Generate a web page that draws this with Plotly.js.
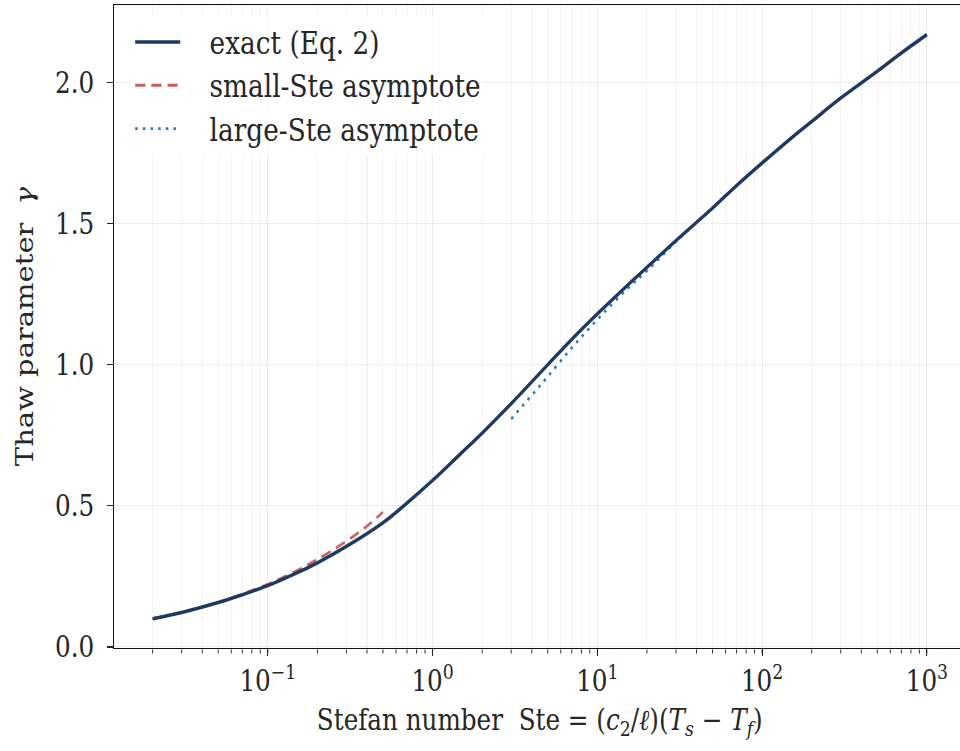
<!DOCTYPE html>
<html>
<head>
<meta charset="utf-8">
<script src="https://cdn.plot.ly/plotly-3.0.1.min.js"></script>
<style>
html,body{margin:0;padding:0;overflow:hidden;background:#fff;width:960px;height:751px;}
#chart{width:1144px;height:751px;transform:scaleX(0.85);transform-origin:0 0;}
</style>
</head>
<body>
<div id="chart"></div>
<script>
// Exact solution
const steExact = [0.02,0.03,0.05,0.07,0.1,0.15,0.2,0.3,0.5,0.7,1,1.5,2,3,5,7,10,15,20,30,50,70,100,150,200,300,500,700,1000];
const gammaExact = [0.100,0.122,0.157,0.185,0.217,0.262,0.298,0.356,0.440,0.510,0.590,0.688,0.758,0.862,1.000,1.090,1.180,1.278,1.345,1.440,1.555,1.635,1.715,1.803,1.862,1.945,2.040,2.105,2.170];

// Small-Ste asymptote
const steSmall = [0.02,0.03,0.05,0.07,0.1,0.15,0.2,0.3,0.4,0.5];
const gammaSmall = [0.100,0.122,0.157,0.186,0.222,0.270,0.310,0.375,0.428,0.478];

// Large-Ste asymptote
const steLarge = [3,4,5,7,10,15,20,30,50,70,100,150,200,300,500,700,1000];
const gammaLarge = [0.808,0.892,0.958,1.060,1.160,1.266,1.333,1.436,1.555,1.635,1.715,1.803,1.862,1.945,2.040,2.105,2.170];

// Axis ticks
const xTickVals = [0.1, 1, 10, 100, 1000];
const xTickText = ['10<sup>−1</sup>','10<sup>0</sup>','10<sup>1</sup>','10<sup>2</sup>','10<sup>3</sup>'];
const yTickVals = [0, 0.5, 1.0, 1.5, 2.0];
const yTickText = ['0.0','0.5','1.0','1.5','2.0'];

const legendLabels = ['exact (Eq. 2)','small-Ste asymptote','large-Ste asymptote'];
const PAD = '\u00a0\u00a0\u00a0';

const FONT = 'DejaVu Serif, serif';
const FS = 29;
const TXT = '#262626';

const traces = [
  {x: steSmall, y: gammaSmall, type:'scatter', mode:'lines', name: PAD + legendLabels[1],
   legendrank: 2, legendgroup:'b',
   line:{color:'#cd5f5f', width:2.8, dash:'12px,7px', shape:'spline', smoothing:1}},
  {x: steLarge, y: gammaLarge, type:'scatter', mode:'lines', name: PAD + legendLabels[2],
   legendrank: 3, legendgroup:'c',
   line:{color:'#2b78b6', width:2.8, dash:'3px,6px', shape:'spline', smoothing:1}},
  {x: steExact, y: gammaExact, type:'scatter', mode:'lines', name: PAD + legendLabels[0],
   legendrank: 1, legendgroup:'a', line:{color:'#1f3a62', width:3.6, shape:'spline', smoothing:1}}
];

const layout = {
  width: 1144, height: 751,
  margin: {l:134, r:8, t:5, b:103},
  paper_bgcolor:'#fff', plot_bgcolor:'#fff',
  font: {family: FONT, size: FS, color: TXT},
  showlegend: true,
  legend: {x: 0.02, y: 0.984, xanchor:'left', yanchor:'top', bgcolor:'rgba(255,255,255,0.8)',
    borderwidth:0, font:{family:FONT, size:31, color:TXT}, tracegroupgap: 10,
    itemwidth: 53, traceorder:'normal'},
  xaxis: {
    type:'log', range:[-1.934, 3.235],
    tickvals: xTickVals, ticktext: xTickText,
    ticks:'outside', ticklen:7, tickwidth:1.3, tickcolor:'#222',
    showgrid:true, gridcolor:'#ececec', gridwidth:1.2,
    minor:{dtick:'D1', showgrid:true, gridcolor:'#f3f3f3', gridwidth:1.2, ticks:'outside', ticklen:4, tickwidth:1.1, tickcolor:'#222'},
    showline:true, linecolor:'#111', linewidth:1.4, mirror:true,
    zeroline:false,
    tickfont:{family:FONT, size:FS, color:TXT},
    title:{text:'Stefan number  Ste = (<i>c</i><sub>2</sub>/<i>ℓ</i>)(<i>T</i><sub><i>s</i></sub> − <i>T</i><sub><i>f</i></sub>)', font:{family:FONT, size:FS, color:TXT}, standoff: 12}
  },
  yaxis: {
    range:[-0.004, 2.275],
    tickvals: yTickVals, ticktext: yTickText,
    ticks:'outside', ticklen:7, tickwidth:1.3, tickcolor:'#222',
    ticklabelstandoff: 9,
    showgrid:true, gridcolor:'#ececec', gridwidth:1.2,
    showline:true, linecolor:'#111', linewidth:1.4, mirror:true,
    zeroline:false,
    tickfont:{family:FONT, size:FS, color:TXT},
    title:{text:'Thaw parameter  <i>γ</i>', font:{family:FONT, size:FS, color:TXT}, standoff: 16}
  }
};

Plotly.newPlot('chart', traces, layout, {displayModeBar:false, staticPlot:true});
</script>
</body>
</html>
